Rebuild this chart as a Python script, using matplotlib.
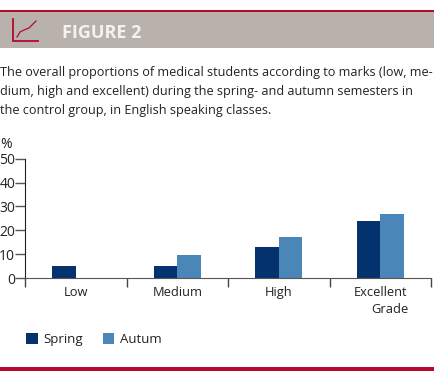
import matplotlib
matplotlib.use("Agg")
import matplotlib.pyplot as plt
import numpy as np
from matplotlib.patches import Rectangle

grades = ["Low", "Medium", "High", "Excellent"]
spring = [5, 5, 12.9, 24]
autumn = [0, 9.5, 17, 26.8]
yticks = [0, 10, 20, 30, 40, 50]

caption = ["The overall proportions of medical students according to marks (low, me-",
           "dium, high and excellent) during the spring- and autumn semesters in",
           "the control group, in English speaking classes."]

W, H = 434, 379
RED = "#b5092d"
DARK = "#04326f"
BLUE = "#4a87b8"
TEXT = "#222222"

plt.rcParams['font.family'] = ['Open Sans', 'DejaVu Sans']

fig = plt.figure(figsize=(W / 100, H / 100), dpi=100)

# page furniture, in pixels
bg = fig.add_axes([0, 0, 1, 1])
bg.set_xlim(0, W)
bg.set_ylim(H, 0)
bg.axis("off")
bg.add_patch(Rectangle((0, 12), W, 36, color="#b9b2ac", lw=0))
bg.add_patch(Rectangle((0, 10), W, 2, color=RED, lw=0))
bg.add_patch(Rectangle((0, 367), W, 4, color=RED, lw=0))
bg.plot([13, 13, 38], [19, 41, 41], color=RED, lw=1.3, solid_joinstyle="miter")
bg.plot([17, 20, 24, 29, 33, 36], [37, 32, 30, 28, 24, 21], color=RED, lw=0.9)
bg.text(62, 33, "FIGURE 2", color="#f4f2f0", fontsize=13, fontweight="bold", va="center", ha="left")
for i, line in enumerate(caption):
    bg.text(0, 72.5 + i * 19, line, color=TEXT, fontsize=9.1, va="center", ha="left")
bg.text(0, 144, "%", color=TEXT, fontsize=10, va="center", ha="left")
bg.text(408, 309.5, "Grade", color=TEXT, fontsize=9.3, va="center", ha="right")

# chart area
left, right, top, bottom = 25, 431, 158.7, 278
ax = fig.add_axes([left / W, 1 - bottom / H, (right - left) / W, (bottom - top) / H])
ax.patch.set_alpha(0)

x = np.arange(len(grades))
width = 0.232
ax.bar(x - width / 2, spring, width, color=DARK, label="Spring")
ax.bar(x + width / 2, autumn, width, color=BLUE, label="Autum")

ax.set_xlim(-0.5, 3.5)
ax.set_ylim(0, 50)
ax.set_yticks(yticks)
ax.set_xticks(np.arange(-0.5, 4))
ax.set_xticklabels([])
ax.set_xticks(x, minor=True)
ax.set_xticklabels(grades, minor=True)
ax.tick_params(axis="x", which="major", length=6.5, width=1, color="#444444", direction="out")
ax.tick_params(axis="x", which="minor", length=0, pad=6, labelsize=9.3, labelcolor=TEXT)
ax.tick_params(axis="y", length=7, width=1, color="#555555", pad=0, labelsize=10, labelcolor=TEXT)
for s in ["top", "right"]:
    ax.spines[s].set_visible(False)
ax.spines["left"].set_color("#222222")
ax.spines["bottom"].set_color("#555555")

ax.legend(loc="upper left", bbox_to_anchor=(26 / W, 1 - 333 / H), bbox_transform=fig.transFigure,
          ncol=2, frameon=False, fontsize=9.5, handlelength=0.9, handleheight=0.9,
          handletextpad=0.45, columnspacing=1.45, borderpad=0, borderaxespad=0, labelcolor=TEXT)

fig.savefig("out.png", dpi=100)
